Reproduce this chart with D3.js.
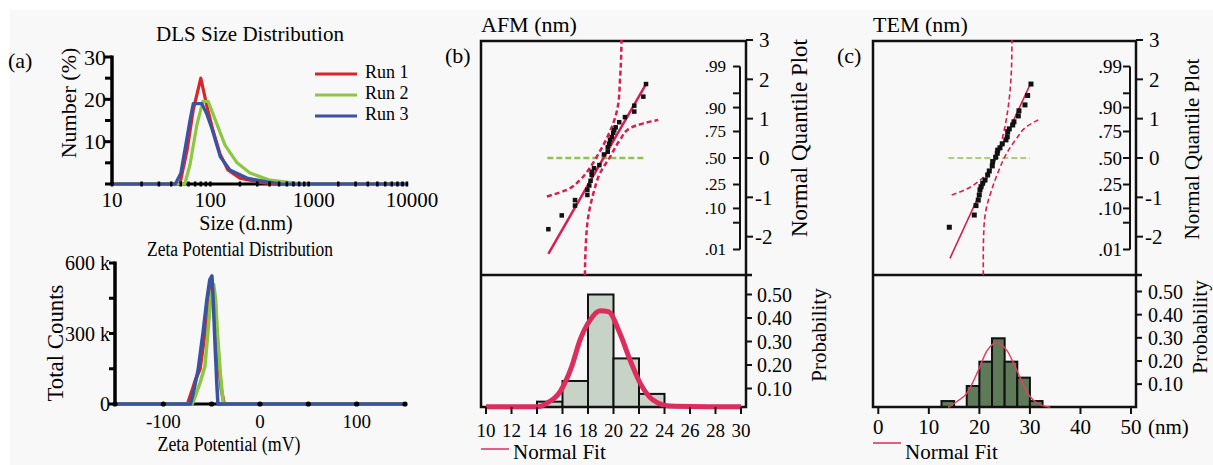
<!DOCTYPE html>
<html>
<head>
<meta charset="utf-8">
<script src="https://cdn.jsdelivr.net/npm/d3@7"></script>
<style>
body { margin: 0; background: #fff; }
svg { display: block; font-family: "Liberation Serif", "Times New Roman", serif; }
</style>
</head>
<body>
<svg id="chart" width="1213" height="465"></svg>
<script>
// ---- data ----
const runNames = ['Run 1', 'Run 2', 'Run 3'];

// DLS size distribution, size (d.nm) vs number (%)
const run1Size = [10, 49, 58, 67, 80, 92, 106, 126, 151, 200, 320, 455, 10000];
const run1Number = [0, 0, 8, 17.5, 25, 18.5, 12.8, 7, 3.3, 1.4, 0.4, 0, 0];
const run2Size = [10, 55, 62, 73, 84, 95, 112, 141, 187, 253, 405, 728, 920, 10000];
const run2Number = [0, 0, 4.5, 14, 19.5, 19.5, 15.2, 9.2, 5, 2.6, 0.9, 0.2, 0, 0];
const run3Size = [10, 44, 50, 56, 62, 67, 82, 92, 104, 126, 158, 236, 378, 540, 10000];
const run3Number = [0, 0, 2.5, 9, 15, 19, 19, 16.5, 13, 6.5, 3.3, 1.4, 0.5, 0, 0];

// zeta potential (mV) vs total counts (k)
const run1Zeta = [-150, -75, -70, -67, -62, -57, -53, -50, -47, -44, -40, -37, 150];
const run1Counts = [0, 0, 60, 100, 150, 300, 470, 520, 400, 220, 60, 0, 0];
const run2Zeta = [-150, -70, -62, -57, -54, -51, -48, -46, -44, -41, -38, 150];
const run2Counts = [0, 0, 90, 160, 300, 450, 510, 450, 300, 130, 0, 0];
const run3Zeta = [-150, -72, -69, -64, -59, -55, -52, -49.7, -48.7, -46.6, -44.5, -43.5, 150];
const run3Counts = [0, 0, 47, 145, 302, 443, 528, 545, 472, 260, 72, 0, 0];

// AFM histogram (bin width 2 nm)
const afmBinLo = [14, 16, 18, 20, 22];
const afmProb = [0.044, 0.132, 0.50, 0.228, 0.077];
const afmFitX = [10, 14, 14.76, 15.8, 16.72, 17.37, 18.16, 18.94, 19.6, 20.5, 21.3, 22.1, 23.1, 24.4, 30];
const afmFitY = [0.022, 0.022, 0.037, 0.086, 0.193, 0.306, 0.391, 0.431, 0.427, 0.335, 0.221, 0.122, 0.051, 0.026, 0.022];
// AFM normal quantile plot
const afmQx = [14.89, 15.94, 16.98, 16.98, 17.95, 17.95, 18.1, 18.2, 18.29, 18.29, 18.47, 18.89, 19.25, 19.55,
  19.55, 19.65, 19.73, 19.86, 19.98, 20.06, 20.17, 20.45, 20.9, 21.63, 21.63, 22.34, 22.55];
const afmQz = [-1.81, -1.46, -1.21, -1.07, -0.94, -0.81, -0.70, -0.58, -0.43, -0.35, -0.26, -0.18, 0.09, 0.16,
  0.27, 0.36, 0.46, 0.53, 0.64, 0.71, 0.78, 0.91, 1.04, 1.18, 1.33, 1.56, 1.88];
const afmLineX = [14.89, 22.55];
const afmLineZ = [-2.44, 1.88];
const afmBandUpX = [14.78, 16.33, 17.37, 18.02, 18.68, 19.33, 19.98, 20.38, 20.51, 20.59, 20.63];
const afmBandUpZ = [-0.98, -0.81, -0.56, -0.31, 0.03, 0.41, 0.88, 1.39, 1.98, 2.49, 3.0];
const afmBandLoX = [17.76, 17.82, 18.02, 18.42, 18.94, 19.73, 20.51, 21.29, 22.34, 23.51];
const afmBandLoZ = [-2.98, -2.26, -1.49, -0.90, -0.39, 0.03, 0.46, 0.76, 0.88, 0.97];
const afmRefX = [14.81, 22.39];

// TEM histogram (bin width 2.5 nm)
const temBinLo = [12.5, 17.5, 20, 22.5, 25, 27.5, 30];
const temProb = [0.027, 0.092, 0.197, 0.298, 0.197, 0.128, 0.027];
const temFitX = [13.8, 15.5, 17.5, 19.8, 21.4, 23.4, 25.4, 27.4, 29.4, 31.3, 34];
const temFitY = [0, 0.024, 0.06, 0.16, 0.24, 0.279, 0.247, 0.16, 0.067, 0.02, 0];
// TEM normal quantile plot
const temQx = [14.05, 18.99, 19.33, 19.78, 19.98, 20.12, 20.32, 20.65, 21.11, 21.64, 21.96, 22.55, 22.63, 23.22,
  23.54, 23.62, 24.07, 24.53, 25.26, 25.52, 25.60, 25.92, 26.59, 26.84, 27.70, 27.83, 29.02, 29.55, 30.21];
const temQz = [-1.76, -1.45, -1.21, -1.07, -0.94, -0.81, -0.73, -0.64, -0.56, -0.43, -0.33, -0.20, -0.09, 0.02,
  0.12, 0.20, 0.26, 0.36, 0.46, 0.54, 0.67, 0.74, 0.84, 0.92, 1.07, 1.20, 1.35, 1.59, 1.88];
const temLineX = [14.18, 30.0];
const temLineZ = [-2.55, 1.86];
const temBandUpX = [14.52, 17.15, 19.78, 21.76, 23.09, 24.07, 25.06, 25.72, 26.19, 26.39, 26.45];
const temBandUpZ = [-0.94, -0.81, -0.60, -0.35, -0.05, 0.29, 0.80, 1.31, 1.90, 2.41, 3.0];
const temBandLoX = [20.77, 20.77, 20.91, 21.44, 22.43, 23.74, 25.40, 27.38, 29.36, 31.65];
const temBandLoZ = [-2.98, -2.51, -1.75, -1.24, -0.81, -0.35, 0.12, 0.50, 0.80, 0.97];
const temRefX = [13.85, 30.0];

// axis ticks
const zTicks = [3, 2, 1, 0, -1, -2];
const probLabels = ['.99', '.90', '.75', '.50', '.25', '.10', '.01'];
const probLabelZ = [2.326, 1.282, 0.674, 0, -0.674, -1.282, -2.326];
const probTickZ = [2.326, 1.645, 1.282, 0.674, 0, -0.674, -1.282, -1.645, -2.326];
const probAxisTicks = [0.1, 0.2, 0.3, 0.4, 0.5];
const afmTicks = [10, 12, 14, 16, 18, 20, 22, 24, 26, 28, 30];
const temTicks = [0, 10, 20, 30, 40, 50];

const runColors = ['#d7262b', '#8dc63f', '#3953a4'];
const fitRed = '#dc2d5c';

const svg = d3.select('#chart');
svg.append('rect').attr('x', 10).attr('y', 10).attr('width', 1203).attr('height', 455).attr('fill', '#f8f8f8');

function drawDls() {
  const x = d3.scaleLog().domain([10, 10000]).range([112, 407]);
  const y = d3.scaleLinear().domain([0, 30]).range([184, 57]);
  const g = svg.append('g');
  g.append('text').attr('x', 250).attr('y', 41).attr('text-anchor', 'middle').attr('font-size', 21).text('DLS Size Distribution');
  g.append('text').attr('x', 8).attr('y', 68).attr('font-size', 22).text('(a)');

  g.append('line').attr('x1', x(10)).attr('x2', x(10000)).attr('y1', y(0)).attr('y2', y(0))
    .attr('stroke', '#000').attr('stroke-width', 3);

  const sizes = [run1Size, run2Size, run3Size];
  const nums = [run1Number, run2Number, run3Number];
  const line = d3.line().x(d => x(d[0])).y(d => y(d[1]));
  sizes.forEach((s, i) => {
    g.append('path').datum(d3.zip(s, nums[i])).attr('d', line)
      .attr('fill', 'none').attr('stroke', runColors[i]).attr('stroke-width', 3.2).attr('stroke-linejoin', 'round');
  });

  g.selectAll('.xt').data(x.ticks()).enter().append('line')
    .attr('x1', d => x(d)).attr('x2', d => x(d)).attr('y1', y(0) - 2.5).attr('y2', y(0) + 2.5)
    .attr('stroke', '#000').attr('stroke-width', 2.5);
  g.selectAll('.xl').data([10, 100, 1000, 10000]).enter().append('text')
    .attr('x', d => x(d) + (d > 500 ? 5 : 0)).attr('y', 207).attr('text-anchor', 'middle').attr('font-size', 21).text(d => d);
  g.append('text').attr('x', 246).attr('y', 230).attr('text-anchor', 'middle').attr('font-size', 20).text('Size (d.nm)');

  g.append('line').attr('x1', 112).attr('x2', 112).attr('y1', y(0) + 1.5).attr('y2', y(30) - 1.5)
    .attr('stroke', '#000').attr('stroke-width', 3.5);
  g.selectAll('.yt').data(d3.range(0, 31, 5)).enter().append('line')
    .attr('x1', 112).attr('x2', 105).attr('y1', d => y(d)).attr('y2', d => y(d))
    .attr('stroke', '#000').attr('stroke-width', 3);
  g.selectAll('.yl').data([10, 20, 30]).enter().append('text')
    .attr('x', 106).attr('y', d => y(d)).attr('dy', '0.35em').attr('text-anchor', 'end').attr('font-size', 22).text(d => d);
  g.append('text').attr('transform', 'translate(76,103) rotate(-90)').attr('text-anchor', 'middle')
    .attr('font-size', 22).text('Number (%)');

  const legY = [74, 95, 116];
  runNames.forEach((n, i) => {
    g.append('line').attr('x1', 315).attr('x2', 357).attr('y1', legY[i]).attr('y2', legY[i])
      .attr('stroke', runColors[i]).attr('stroke-width', 3);
    g.append('text').attr('x', 365).attr('y', legY[i] + 4).attr('font-size', 18).text(n);
  });
}

function drawZeta() {
  const x = d3.scaleLinear().domain([-150, 150]).range([115, 405]);
  const y = d3.scaleLinear().domain([0, 600]).range([404, 263]);
  const g = svg.append('g');
  g.append('text').attr('x', 240).attr('y', 256).attr('text-anchor', 'middle').attr('font-size', 20)
    .attr('textLength', 186).attr('lengthAdjust', 'spacingAndGlyphs').text('Zeta Potential Distribution');

  g.append('line').attr('x1', x(-150)).attr('x2', x(150)).attr('y1', y(0)).attr('y2', y(0))
    .attr('stroke', '#000').attr('stroke-width', 3);
  const zs = [run1Zeta, run2Zeta, run3Zeta];
  const cs = [run1Counts, run2Counts, run3Counts];
  const line = d3.line().x(d => x(d[0])).y(d => y(d[1]));
  zs.forEach((z, i) => {
    g.append('path').datum(d3.zip(z, cs[i])).attr('d', line)
      .attr('fill', 'none').attr('stroke', runColors[i]).attr('stroke-width', 3.5).attr('stroke-linejoin', 'round');
  });

  g.selectAll('.xt').data(d3.range(-150, 151, 50)).enter().append('circle')
    .attr('cx', d => x(d)).attr('cy', y(0)).attr('r', 2.6).attr('fill', '#000');
  g.selectAll('.xl').data([-100, 0, 100]).enter().append('text')
    .attr('x', d => x(d)).attr('y', 428).attr('text-anchor', 'middle').attr('font-size', 19).text(d => d);
  g.append('text').attr('x', 229).attr('y', 451).attr('text-anchor', 'middle').attr('font-size', 20)
    .attr('textLength', 143).attr('lengthAdjust', 'spacingAndGlyphs').text('Zeta Potential (mV)');

  g.append('line').attr('x1', 115).attr('x2', 115).attr('y1', y(0) + 1.5).attr('y2', y(600) - 1.5)
    .attr('stroke', '#000').attr('stroke-width', 3.5);
  g.selectAll('.yt').data([0, 150, 300, 450, 600]).enter().append('line')
    .attr('x1', 115).attr('x2', 109).attr('y1', d => y(d)).attr('y2', d => y(d))
    .attr('stroke', '#000').attr('stroke-width', 3);
  g.selectAll('.yl').data([0, 300, 600]).enter().append('text')
    .attr('x', 110).attr('y', d => y(d)).attr('dy', '0.35em').attr('text-anchor', 'end').attr('font-size', 20)
    .text(d => d === 0 ? '0' : d + ' k');
  g.append('text').attr('transform', 'translate(63,343) rotate(-90)').attr('text-anchor', 'middle')
    .attr('font-size', 24).attr('textLength', 117).attr('lengthAdjust', 'spacingAndGlyphs').text('Total Counts');
}

function drawDist(c) {
  const x = d3.scaleLinear().domain(c.xDomain).range(c.xRange);
  const z = d3.scaleLinear().domain([-3, 3]).range([276, 40]);
  const p = d3.scaleLinear().domain([0, 0.5]).range(c.pRange);
  const top = 41, mid = 275, bottom = 407;
  const g = svg.append('g');

  g.append('text').attr('x', c.left).attr('y', 32).attr('font-size', 22).text(c.title);
  g.append('text').attr('x', c.left - 36).attr('y', 63).attr('font-size', 22).text(c.tag);

  // histogram bars
  g.selectAll('.bar').data(c.prob).enter().append('rect')
    .attr('x', (d, i) => x(c.binLo[i]))
    .attr('width', (d, i) => x(c.binLo[i] + c.binWidth) - x(c.binLo[i]))
    .attr('y', d => p(d)).attr('height', d => bottom - p(d))
    .attr('fill', c.barFill).attr('stroke', '#111').attr('stroke-width', 2);

  // frame
  g.append('rect').attr('x', c.left).attr('y', top).attr('width', c.right - c.left).attr('height', bottom - top)
    .attr('fill', 'none').attr('stroke', '#111').attr('stroke-width', 2.5);
  g.append('line').attr('x1', c.left).attr('x2', c.right + 6).attr('y1', mid).attr('y2', mid)
    .attr('stroke', '#111').attr('stroke-width', 2.5);

  // normal fit curve
  g.append('path').datum(d3.zip(c.fitX, c.fitY))
    .attr('d', d3.line().curve(d3.curveMonotoneX).x(d => x(d[0])).y(d => p(d[1])))
    .attr('fill', 'none').attr('stroke', c.fitColor).attr('stroke-width', c.fitWidth).attr('stroke-linejoin', 'round');

  // x axis below histogram
  g.selectAll('.xt').data(c.xTicks).enter().append('line')
    .attr('x1', d => x(d)).attr('x2', d => x(d)).attr('y1', bottom).attr('y2', bottom + 7)
    .attr('stroke', '#111').attr('stroke-width', 2);
  g.selectAll('.xl').data(c.xTicks).enter().append('text')
    .attr('x', d => x(d)).attr('y', c.xLabelY).attr('text-anchor', 'middle').attr('font-size', c.xFont).text(d => d);
  if (c.unit) g.append('text').attr('x', x(c.xDomain[1]) + 17).attr('y', c.xLabelY).attr('font-size', c.xFont).text(c.unit);

  // legend
  g.append('line').attr('x1', c.left).attr('x2', c.left + 28).attr('y1', c.legY).attr('y2', c.legY)
    .attr('stroke', fitRed).attr('stroke-width', 1.5);
  g.append('text').attr('x', c.left + 32).attr('y', c.legTextY).attr('font-size', 21).text('Normal Fit');

  // probability axis
  g.selectAll('.pt').data(probAxisTicks).enter().append('line')
    .attr('x1', c.right).attr('x2', c.right + 6).attr('y1', d => p(d)).attr('y2', d => p(d))
    .attr('stroke', '#111').attr('stroke-width', 2);
  g.selectAll('.pl').data(probAxisTicks).enter().append('text')
    .attr('x', c.right + c.probLabelGap).attr('y', d => p(d)).attr('dy', '0.35em').attr('font-size', 20).text(d => d.toFixed(2));
  g.append('text').attr('transform', `translate(${c.probTitleX},${c.probTitleY}) rotate(-90)`)
    .attr('text-anchor', 'middle').attr('font-size', 21).text('Probability');

  // normal quantile axis
  g.selectAll('.zt').data(zTicks).enter().append('line')
    .attr('x1', c.right).attr('x2', c.right + 7).attr('y1', d => z(d)).attr('y2', d => z(d))
    .attr('stroke', '#111').attr('stroke-width', 2);
  g.selectAll('.zl').data(zTicks).enter().append('text')
    .attr('x', d => c.right + (d < 0 ? 9 : 13)).attr('y', d => z(d)).attr('dy', '0.35em').attr('font-size', 21)
    .text(d => d);
  g.append('text').attr('transform', `translate(${c.qTitleX},${c.qTitleY}) rotate(-90)`)
    .attr('text-anchor', 'middle').attr('font-size', c.qTitleFont).text('Normal Quantile Plot');

  // probability bracket
  const bx = c.right - 6;
  g.append('line').attr('x1', bx).attr('x2', bx).attr('y1', z(2.326)).attr('y2', z(-2.326))
    .attr('stroke', '#111').attr('stroke-width', 2);
  g.selectAll('.bt').data(probTickZ).enter().append('line')
    .attr('x1', bx).attr('x2', bx - 7).attr('y1', d => z(d)).attr('y2', d => z(d))
    .attr('stroke', '#111').attr('stroke-width', 2);
  g.selectAll('.bl').data(probLabels).enter().append('text')
    .attr('x', bx - c.bracketGap).attr('y', (d, i) => z(probLabelZ[i])).attr('dy', '0.35em')
    .attr('text-anchor', 'end').attr('font-size', c.bracketFont).text(d => d);

  // quantile plot content
  const line = d3.line().x(d => x(d[0])).y(d => z(d[1]));
  g.append('path').datum(c.refX.map(v => [v, 0])).attr('d', line)
    .attr('stroke', '#8dc63f').attr('stroke-width', c.dashWidth).attr('stroke-dasharray', '6,3').attr('fill', 'none');
  [[c.bandUpX, c.bandUpZ], [c.bandLoX, c.bandLoZ]].forEach(b => {
    g.append('path').datum(d3.zip(b[0], b[1])).attr('d', line.curve(d3.curveMonotoneY))
      .attr('stroke', '#d81e50').attr('stroke-width', c.dashWidth).attr('stroke-dasharray', '5,3').attr('fill', 'none');
  });
  line.curve(d3.curveLinear);
  g.append('path').datum(d3.zip(c.lineX, c.lineZ)).attr('d', line)
    .attr('stroke', '#d81e50').attr('stroke-width', c.dashWidth).attr('fill', 'none');
  g.selectAll('.pt2').data(d3.zip(c.qx, c.qz)).enter().append('rect')
    .attr('x', d => x(d[0]) - c.sq / 2).attr('y', d => z(d[1]) - c.sq / 2)
    .attr('width', c.sq).attr('height', c.sq).attr('fill', '#111');
}

drawDls();
drawZeta();
drawDist({
  title: 'AFM (nm)', tag: '(b)', left: 481, right: 746,
  xDomain: [10, 30], xRange: [486, 741], pRange: [412, 294.5], xTicks: afmTicks, xFont: 19, xLabelY: 437,
  binLo: afmBinLo, binWidth: 2, prob: afmProb, barFill: '#c7d3c7',
  fitX: afmFitX, fitY: afmFitY, fitColor: fitRed, fitWidth: 5,
  legY: 449, legTextY: 459, probLabelGap: 11, probTitleX: 826, probTitleY: 335,
  qTitleX: 807, qTitleY: 138, qTitleFont: 23, bracketGap: 14, bracketFont: 17,
  dashWidth: 2.5, sq: 4.5,
  qx: afmQx, qz: afmQz, lineX: afmLineX, lineZ: afmLineZ,
  bandUpX: afmBandUpX, bandUpZ: afmBandUpZ, bandLoX: afmBandLoX, bandLoZ: afmBandLoZ, refX: afmRefX
});
drawDist({
  title: 'TEM (nm)', tag: '(c)', left: 873, right: 1136, unit: '(nm)',
  xDomain: [0, 50], xRange: [878.3, 1131], pRange: [407.3, 291.5], xTicks: temTicks, xFont: 21, xLabelY: 434,
  binLo: temBinLo, binWidth: 2.5, prob: temProb, barFill: '#5e7a58',
  fitX: temFitX, fitY: temFitY, fitColor: '#e2425f', fitWidth: 1.5,
  legY: 443, legTextY: 459, probLabelGap: 12, probTitleX: 1207, probTitleY: 327,
  qTitleX: 1199, qTitleY: 149, qTitleFont: 21, bracketGap: 8, bracketFont: 19,
  dashWidth: 1.6, sq: 5,
  qx: temQx, qz: temQz, lineX: temLineX, lineZ: temLineZ,
  bandUpX: temBandUpX, bandUpZ: temBandUpZ, bandLoX: temBandLoX, bandLoZ: temBandLoZ, refX: temRefX
});
</script>
</body>
</html>
